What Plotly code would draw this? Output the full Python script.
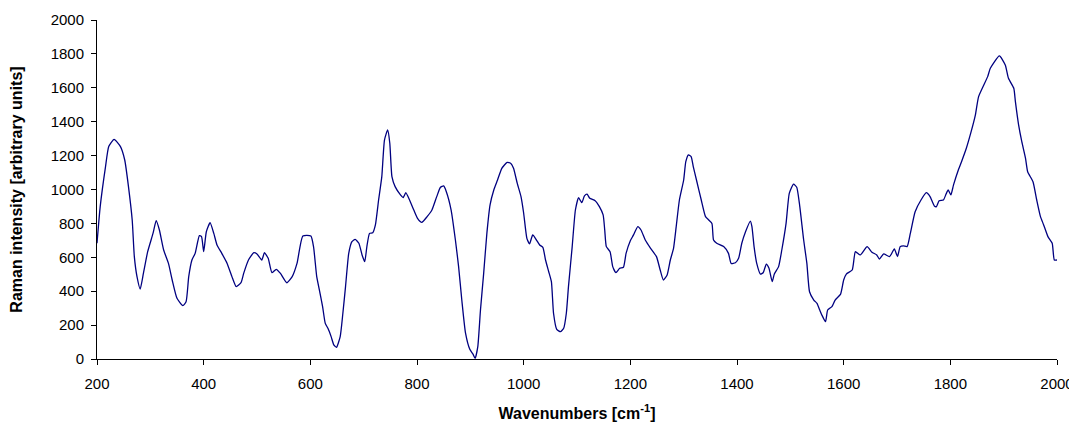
import plotly.graph_objects as go

wavenumber = [200, 206, 216, 222, 232, 244, 252, 259, 266, 270, 275, 281, 287, 295, 305, 311, 317, 325, 334, 341,
              350, 361, 367, 372, 378, 384, 392, 396, 400, 405, 412, 419, 425, 434, 444, 453, 461, 470, 475, 484,
              494, 500, 509, 514, 521, 528, 536, 544, 556, 566, 575, 586, 601, 606, 612, 617, 623, 628, 633, 639,
              644, 649, 656, 661, 666, 672, 678, 684, 691, 697, 702, 706, 711, 717, 722, 728, 734, 739, 745, 749,
              753, 759, 769, 774, 779, 786, 794, 801, 809, 819, 828, 837, 844, 850, 855, 864, 872, 878, 884, 891,
              899, 905, 909, 914, 919, 925, 931, 937, 944, 951, 959, 969, 976, 981, 988, 995, 1000, 1006, 1011, 1017,
              1024, 1030, 1036, 1041, 1047, 1052, 1056, 1062, 1069, 1075, 1080, 1084, 1091, 1097, 1103, 1109, 1114, 1119, 1124, 1134,
              1142, 1149, 1152, 1155, 1162, 1167, 1173, 1180, 1187, 1192, 1200, 1206, 1214, 1220, 1228, 1238, 1249, 1256, 1262, 1269,
              1275, 1281, 1286, 1292, 1300, 1304, 1309, 1314, 1318, 1324, 1333, 1341, 1347, 1353, 1356, 1362, 1375, 1384, 1389, 1397,
              1403, 1409, 1416, 1425, 1428, 1432, 1437, 1444, 1449, 1455, 1460, 1466, 1470, 1478, 1484, 1492, 1498, 1506, 1512, 1517,
              1525, 1531, 1536, 1544, 1550, 1555, 1559, 1566, 1570, 1578, 1584, 1594, 1600, 1605, 1616, 1622, 1631, 1644, 1653, 1662,
              1667, 1675, 1686, 1695, 1701, 1706, 1712, 1719, 1725, 1734, 1745, 1755, 1762, 1770, 1774, 1779, 1787, 1792, 1796, 1801,
              1806, 1815, 1821, 1830, 1839, 1847, 1853, 1870, 1875, 1892, 1903, 1909, 1919, 1922, 1928, 1934, 1941, 1945, 1955, 1962,
              1969, 1975, 1983, 1991, 1995, 2000]

intensity = [683, 899, 1135, 1253, 1296, 1253, 1174, 1017, 820, 604, 486, 413, 505, 633, 741, 816, 761, 643, 564, 466,
             358, 315, 338, 486, 584, 623, 728, 722, 633, 751, 804, 741, 673, 623, 564, 486, 427, 450, 505, 584,
             627, 620, 584, 627, 594, 509, 529, 505, 450, 486, 564, 726, 726, 663, 486, 407, 309, 210, 181, 132,
             83, 69, 132, 270, 427, 623, 692, 706, 683, 614, 574, 663, 741, 745, 791, 938, 1076, 1292, 1351, 1273,
             1076, 1017, 968, 952, 981, 938, 879, 830, 806, 840, 879, 958, 1013, 1021, 987, 879, 702, 545, 348, 152,
             57, 29, 4, 73, 289, 505, 741, 909, 997, 1056, 1125, 1160, 1154, 1125, 1036, 958, 860, 712, 679, 732,
             702, 673, 659, 584, 515, 456, 270, 175, 161, 181, 270, 427, 663, 879, 952, 922, 962, 972, 948, 934,
             899, 850, 761, 663, 633, 545, 509, 535, 541, 623, 698, 732, 781, 761, 702, 653, 604, 525, 466, 496,
             584, 653, 781, 938, 1056, 1164, 1204, 1194, 1135, 1056, 938, 840, 820, 800, 702, 683, 663, 623, 564, 568,
             594, 683, 751, 814, 781, 663, 564, 501, 509, 560, 535, 456, 501, 545, 643, 800, 977, 1032, 1013, 918,
             702, 564, 397, 348, 328, 290, 260, 220, 289, 309, 348, 381, 466, 501, 525, 633, 614, 663, 630, 614,
             590, 620, 604, 649, 604, 663, 667, 663, 741, 869, 938, 981, 958, 903, 899, 934, 938, 973, 997, 968,
             1027, 1115, 1164, 1243, 1341, 1440, 1548, 1666, 1715, 1788, 1735, 1656, 1597, 1518, 1381, 1282, 1184, 1105, 1046, 938,
             840, 791, 722, 683, 584, 584]

x_ticks = [200, 400, 600, 800, 1000, 1200, 1400, 1600, 1800, 2000]
y_ticks = [0, 200, 400, 600, 800, 1000, 1200, 1400, 1600, 1800, 2000]

fig = go.Figure()
fig.add_trace(go.Scatter(
    x=wavenumber, y=intensity, mode="lines",
    line=dict(color="#000080", width=1.3, shape="spline", smoothing=0.5),
    showlegend=False, hoverinfo="x+y",
))

font_family = "Liberation Sans, Arial, sans-serif"
fig.update_layout(
    width=1069, height=419,
    margin=dict(l=89, r=20, t=12, b=68),
    paper_bgcolor="white", plot_bgcolor="white",
    font=dict(family=font_family, size=15, color="black"),
)
fig.update_xaxes(
    range=[200, 2000], tickvals=x_ticks, ticktext=[str(v) for v in x_ticks],
    showline=True, linecolor="black", linewidth=1,
    ticks="outside", ticklen=5, tickcolor="black",
    ticklabelstandoff=6,
    showgrid=False, zeroline=False, automargin=False,
    tickfont=dict(size=15),
    title=dict(text="<b>Wavenumbers [cm<sup>-1</sup>]</b>", font=dict(size=16), standoff=16),
)
fig.update_yaxes(
    range=[0, 2000], tickvals=y_ticks, ticktext=[str(v) for v in y_ticks],
    showline=True, linecolor="black", linewidth=1,
    ticks="outside", ticklen=5, tickcolor="black",
    ticklabelstandoff=4,
    showgrid=False, zeroline=False, automargin=False,
    tickfont=dict(size=15),
    title=dict(text="<b>Raman intensity [arbitrary units]</b>", font=dict(size=16), standoff=26),
)

fig.write_html("out.html")
